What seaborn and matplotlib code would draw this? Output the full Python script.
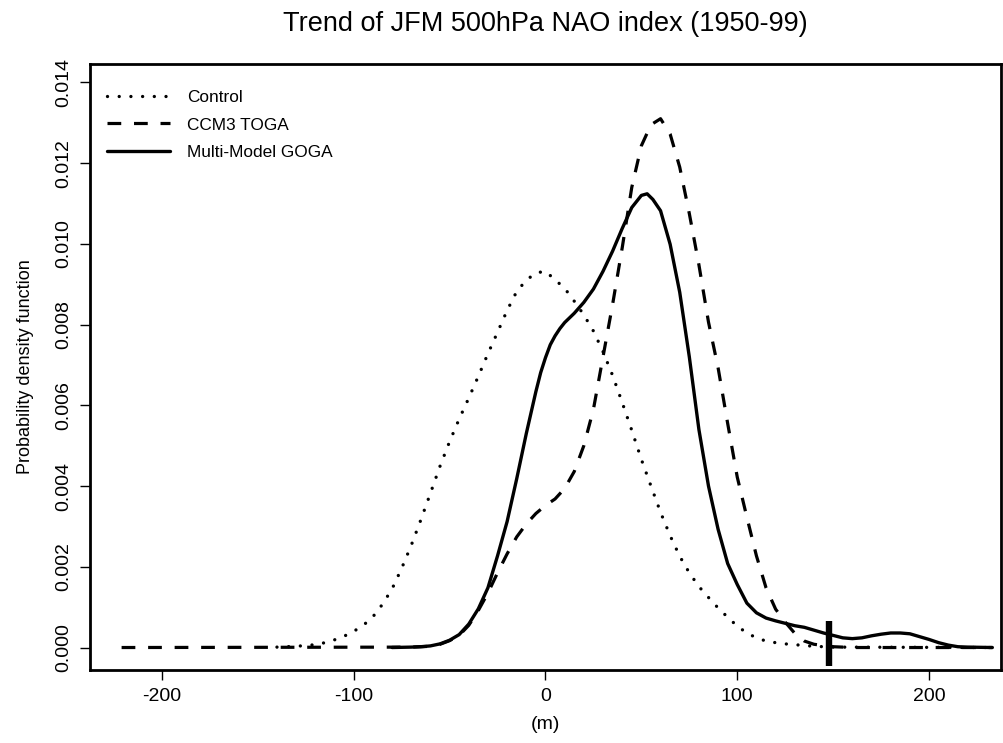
import numpy as np
import pandas as pd
import seaborn as sns
import matplotlib
matplotlib.use("Agg")
import matplotlib.pyplot as plt

# density curves (x in m, y = pdf)
control_x = [-140, -130, -125, -120, -115, -110, -105, -100, -95, -90, -85, -80, -75,
             -70, -65, -60, -55, -50, -45, -40, -35, -30, -25, -20, -15, -10, -5, 0,
             5, 10, 15, 20, 25, 30, 35, 40, 45, 50, 55, 60, 65, 70, 75, 80, 85, 90,
             95, 100, 105, 110, 115, 120, 125, 130, 140, 150, 232]
control_y = [0.00001, 0.00003, 0.00005, 0.00007, 0.00012, 0.00019, 0.00028, 0.0004,
             0.00055, 0.00076, 0.00107, 0.00145, 0.00196, 0.00253, 0.00316, 0.00382,
             0.00449, 0.0051, 0.00566, 0.00618, 0.00672, 0.00728, 0.00781, 0.00835,
             0.00882, 0.0091, 0.00928, 0.00932, 0.00911, 0.0089, 0.00858, 0.00824,
             0.00784, 0.00733, 0.00674, 0.00607, 0.00538, 0.00466, 0.004, 0.00335,
             0.00277, 0.00226, 0.00185, 0.00151, 0.00124, 0.00098, 0.00075, 0.00053,
             0.00036, 0.00024, 0.00016, 0.00012, 0.00009, 0.00007, 0.00003, 0.00001, 0.0]

toga_x = [-221, -70, -60, -55, -50, -45, -40, -35, -30, -25, -20, -15, -10, -5, 0,
          5, 10, 15, 20, 25, 30, 35, 40, 45, 50, 55, 60, 65, 70, 75, 80, 85, 90, 95,
          100, 105, 110, 115, 120, 125, 130, 135, 140, 150, 160, 233]
toga_y = [0.0, 0.00001, 0.00003, 0.00008, 0.00017, 0.0003, 0.00055, 0.00092, 0.00135,
          0.00185, 0.00232, 0.00274, 0.00306, 0.00332, 0.00352, 0.00368, 0.00394,
          0.00436, 0.005, 0.0059, 0.0072, 0.0085, 0.0099, 0.0114, 0.01243, 0.01295,
          0.0131, 0.01272, 0.0119, 0.01075, 0.00948, 0.00806, 0.00693, 0.00555,
          0.00422, 0.00323, 0.00227, 0.00148, 0.00095, 0.00063, 0.00035, 0.00016,
          0.00008, 0.00002, 0.0, 0.0]

goga_x = [-80, -70, -65, -60, -55, -50, -45, -40, -35, -30, -25, -20, -15, -10, -5,
          -2.5, 0, 2.5, 5, 7.5, 10, 15, 20, 25, 30, 35, 40, 45, 50, 53, 56, 60, 65,
          70, 75, 80, 85, 90, 95, 100, 105, 110, 115, 120, 125, 130, 135, 140, 145,
          150, 155, 160, 165, 170, 175, 180, 185, 190, 195, 200, 205, 210, 215, 220,
          233]
goga_y = [0.0, 0.00001, 0.00002, 0.00004, 0.00009, 0.00018, 0.00032, 0.00058, 0.00096,
          0.00148, 0.00227, 0.00312, 0.00418, 0.0053, 0.00634, 0.00681, 0.00718,
          0.0075, 0.00772, 0.0079, 0.00805, 0.00828, 0.00855, 0.00888, 0.00932,
          0.00982, 0.01038, 0.0109, 0.0112, 0.01124, 0.0111, 0.01082, 0.00999, 0.0088,
          0.0072, 0.0054, 0.004, 0.00293, 0.00208, 0.00156, 0.0011, 0.00086, 0.00073,
          0.00066, 0.0006, 0.00054, 0.0005, 0.00043, 0.00036, 0.0003, 0.00024, 0.00022,
          0.00024, 0.00029, 0.00033, 0.00036, 0.00036, 0.00034, 0.00027, 0.0002,
          0.00012, 0.00006, 0.00002, 0.00001, 0.0]

obs_trend = 148  # observed trend marker
y_ticks = [0.0, 0.002, 0.004, 0.006, 0.008, 0.010, 0.012, 0.014]
x_ticks = [-200, -100, 0, 100, 200]

sns.set_style("ticks")
plt.rcParams['font.family'] = ['Liberation Sans', 'DejaVu Sans']
plt.rcParams['axes.unicode_minus'] = False
for k in ['text.color', 'axes.labelcolor', 'xtick.color', 'ytick.color']:
    plt.rcParams[k] = 'black'

fig = plt.figure(figsize=(10.04, 7.43), dpi=100)
ax = fig.add_axes([0.0896, 0.0983, 0.9074, 0.8156])

sns.lineplot(x=control_x, y=control_y, ax=ax, color='black', lw=2.4,
             linestyle=(0, (0.01, 3.5)), dash_capstyle='round', label='Control')
sns.lineplot(x=toga_x, y=toga_y, ax=ax, color='black', lw=2.3,
             linestyle=(0, (4.3, 4.0)), label='CCM3 TOGA')
sns.lineplot(x=goga_x, y=goga_y, ax=ax, color='black', lw=2.4,
             linestyle='-', label='Multi-Model GOGA')

ax.vlines(obs_trend, -0.00047, 0.00066, color='black', lw=4.6)

ax.set_xlim(-237.5, 237.5)
ax.set_ylim(-0.000556, 0.014456)
ax.set_xticks(x_ticks)
ax.set_yticks(y_ticks)
ax.set_yticklabels(['%.3f' % v for v in y_ticks], rotation=90, va='center')
ax.tick_params(axis='both', length=7, width=1.0, labelsize=14, color='black')
ax.tick_params(axis='x', pad=6)
ax.tick_params(axis='y', pad=6)

for s in ax.spines.values():
    s.set_linewidth(2.0)
    s.set_color('black')

ax.set_xlabel('(m)', fontsize=14, labelpad=8)
ax.set_ylabel('Probability density function', fontsize=13, labelpad=15)
ax.set_title('Trend of JFM 500hPa NAO index (1950-99)', fontsize=19.5, pad=24)

ax.legend(loc='upper left', bbox_to_anchor=(0.011, 0.969), borderaxespad=0,
          frameon=False, fontsize=12.4, handlelength=3.66, handletextpad=1.0,
          labelspacing=0.74)

fig.savefig('out.png', dpi=100)
